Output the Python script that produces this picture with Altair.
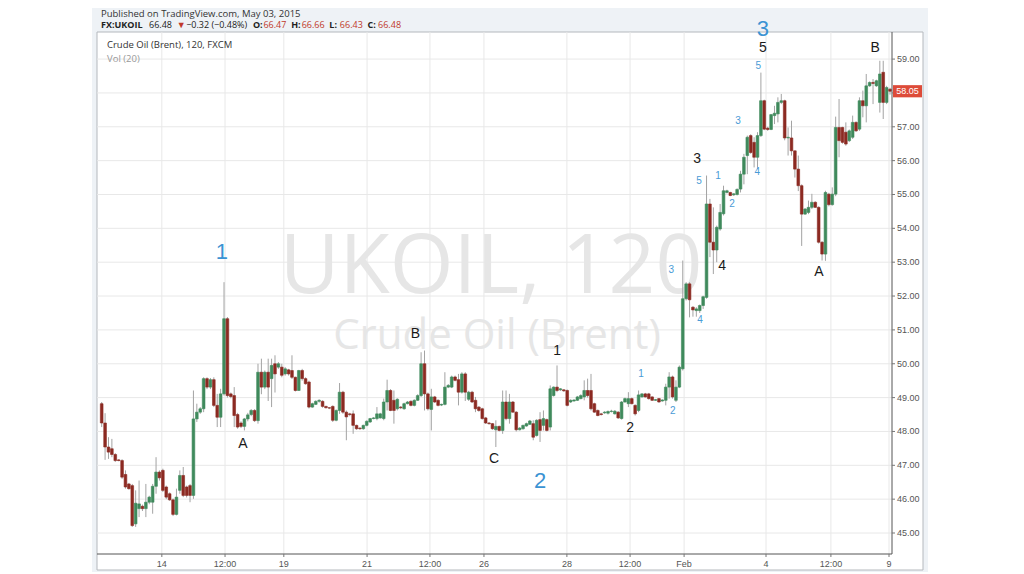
import altair as alt
import pandas as pd

# ---------------- data ----------------
opens = [48.82, 48.25, 47.54, 47.49, 47.32, 47.16, 47.14, 46.73, 46.45, 46.40,
         45.27, 45.72, 45.79, 45.72, 45.91, 45.91, 46.38, 46.80, 46.85, 46.36,
         46.16, 45.98, 45.55, 46.26, 46.70, 46.36, 46.40, 46.11, 48.37, 48.57,
         48.67, 49.56, 49.31, 49.53, 48.77, 48.42, 49.11, 51.33, 49.11, 49.06,
         48.50, 48.25, 48.15, 48.37, 48.50, 48.62, 48.32, 49.75, 49.31, 49.75,
         49.56, 50.00, 49.90, 49.90, 49.70, 49.82, 49.80, 49.60, 49.21, 49.80,
         49.56, 49.46, 48.72, 48.80, 48.89, 48.89, 48.74, 48.70, 48.74, 48.33,
         48.62, 49.16, 48.57, 48.52, 48.52, 48.18, 48.10, 48.08, 48.18, 48.28,
         48.38, 48.38, 48.40, 48.38, 48.87, 49.21, 48.92, 48.67, 48.72, 48.67,
         48.82, 48.89, 48.77, 48.92, 49.06, 50.00, 49.11, 48.65, 49.02, 48.92,
         48.78, 48.80, 49.31, 49.31, 49.61, 49.53, 49.16, 49.70, 48.95, 49.16,
         48.92, 48.72, 48.67, 48.40, 48.25, 48.23, 48.05, 48.15, 48.03, 48.87,
         48.38, 48.87, 48.57, 48.05, 48.08, 48.16, 48.21, 48.23, 47.88, 48.35,
         48.18, 48.35, 48.13, 49.06, 49.31, 49.23, 49.23, 49.21, 48.87, 48.90,
         48.92, 48.97, 49.02, 49.21, 49.21, 48.82, 48.62, 48.52, 48.55, 48.54,
         48.59, 48.52, 48.57, 48.38, 48.87, 48.82, 48.97, 48.77, 48.62, 49.02,
         49.11, 49.11, 49.02, 48.92, 48.97, 48.90, 48.92, 49.31, 49.61, 48.92,
         49.31, 49.85, 51.92, 52.36, 51.67, 51.57, 51.57, 51.72, 51.96, 54.72,
         53.59, 53.36, 53.98, 54.43, 55.06, 55.06, 54.99, 55.00, 55.16, 55.60,
         56.15, 56.74, 56.54, 56.10, 56.74, 57.77, 56.96, 56.92, 57.33, 57.38,
         57.72, 57.77, 56.67, 56.67, 56.29, 55.75, 55.26, 54.42, 54.47, 54.62,
         54.77, 54.62, 53.59, 53.24, 55.01, 54.70, 55.01, 56.98, 56.98, 56.84,
         56.59, 56.69, 57.13, 56.93, 57.77, 57.62, 58.21, 58.31, 58.21, 57.72,
         58.61, 57.72, 58.11]
highs = [48.87, 48.54, 47.83, 47.78, 47.36, 47.18, 47.18, 46.85, 46.48, 46.45,
         46.26, 46.55, 45.84, 46.45, 46.10, 46.45, 47.24, 46.85, 46.90, 46.40,
         46.20, 46.02, 46.31, 46.85, 46.95, 46.40, 46.45, 49.21, 48.82, 48.72,
         49.60, 49.60, 49.58, 49.60, 49.11, 49.26, 52.41, 51.38, 49.15, 49.31,
         48.55, 48.30, 48.40, 48.55, 48.66, 48.66, 50.00, 50.15, 49.80, 50.15,
         50.15, 50.25, 50.05, 50.00, 49.90, 49.85, 50.25, 49.62, 49.82, 49.85,
         49.60, 49.50, 48.85, 48.92, 48.95, 48.92, 48.76, 48.72, 48.77, 48.65,
         49.43, 49.20, 48.62, 48.55, 48.62, 48.20, 48.12, 48.20, 48.33, 48.40,
         48.42, 48.72, 48.55, 48.97, 49.53, 49.25, 49.21, 48.98, 48.75, 48.85,
         48.90, 48.92, 48.95, 49.10, 50.34, 50.39, 49.15, 49.26, 49.05, 48.95,
         48.82, 49.75, 49.40, 49.65, 49.65, 49.70, 49.75, 49.75, 49.20, 49.20,
         49.02, 48.75, 48.70, 48.43, 48.28, 48.25, 48.33, 48.17, 49.21, 49.21,
         49.11, 48.90, 48.60, 48.13, 48.20, 48.26, 48.34, 48.33, 48.36, 48.57,
         48.62, 48.38, 49.36, 49.33, 49.95, 49.28, 49.25, 49.24, 48.95, 48.95,
         49.05, 49.10, 49.51, 49.56, 49.70, 48.85, 48.65, 48.55, 48.60, 48.62,
         48.64, 48.63, 48.60, 48.90, 49.00, 49.16, 49.00, 48.80, 49.21, 49.13,
         49.14, 49.14, 49.04, 48.96, 48.99, 48.95, 49.41, 49.75, 49.65, 49.51,
         49.95, 53.05, 52.41, 52.41, 51.70, 51.67, 51.75, 52.01, 55.56, 54.87,
         54.62, 54.08, 54.72, 55.26, 55.14, 55.08, 55.04, 55.18, 55.70, 56.20,
         56.74, 56.78, 56.69, 56.84, 58.60, 57.80, 57.00, 57.38, 57.62, 57.87,
         57.97, 57.80, 56.98, 57.18, 56.30, 56.15, 55.30, 54.60, 54.82, 55.02,
         54.80, 54.65, 53.62, 55.11, 55.05, 55.21, 57.30, 57.82, 57.00, 57.13,
         56.92, 57.33, 57.16, 57.87, 58.07, 58.56, 58.34, 58.41, 58.39, 58.95,
         58.95, 58.21, 58.15]
lows = [48.13, 47.16, 47.19, 47.24, 47.10, 47.12, 46.60, 46.31, 46.28, 45.18,
        45.18, 45.47, 45.65, 45.47, 45.85, 45.57, 46.16, 46.55, 46.21, 46.00,
        45.95, 45.50, 45.52, 46.16, 46.06, 46.05, 45.91, 46.01, 48.28, 48.52,
        48.57, 49.25, 49.25, 48.72, 48.13, 48.13, 49.06, 49.00, 48.98, 48.13,
        48.08, 48.10, 48.03, 48.30, 48.45, 48.28, 48.23, 49.10, 49.25, 48.90,
        48.72, 49.15, 49.85, 49.60, 49.65, 49.65, 49.55, 49.18, 49.20, 49.50,
        49.38, 48.68, 48.70, 48.78, 48.85, 48.70, 48.68, 48.66, 48.28, 48.30,
        48.52, 48.52, 47.74, 48.45, 47.93, 48.05, 48.05, 48.05, 48.15, 48.25,
        48.36, 48.33, 48.38, 48.33, 48.62, 48.60, 48.23, 48.62, 48.66, 48.64,
        48.80, 48.74, 48.74, 48.90, 49.02, 48.62, 48.62, 48.03, 48.84, 48.74,
        48.75, 48.77, 49.28, 49.28, 49.48, 48.77, 49.12, 48.90, 48.90, 48.84,
        48.57, 48.58, 48.35, 48.22, 48.20, 48.05, 47.54, 48.00, 47.93, 48.33,
        48.23, 48.55, 48.00, 48.03, 48.05, 48.14, 48.19, 47.74, 47.85, 47.69,
        48.03, 48.00, 48.03, 49.03, 49.16, 49.20, 49.17, 48.74, 48.84, 48.88,
        48.90, 48.95, 48.92, 49.00, 48.62, 48.55, 48.45, 48.47, 48.52, 48.50,
        48.56, 48.50, 48.37, 48.35, 48.85, 48.72, 48.80, 48.47, 48.57, 49.00,
        49.00, 48.94, 48.90, 48.90, 48.85, 48.88, 48.77, 48.97, 48.97, 48.87,
        49.28, 49.80, 51.87, 51.37, 51.39, 51.39, 51.50, 51.62, 51.92, 53.15,
        52.65, 53.00, 53.93, 54.38, 55.03, 54.95, 54.96, 54.97, 55.06, 55.30,
        55.60, 56.20, 55.80, 55.75, 56.70, 56.90, 56.88, 56.90, 57.08, 57.13,
        57.67, 56.60, 56.15, 56.15, 55.50, 55.10, 53.48, 54.40, 54.42, 54.57,
        54.60, 53.55, 53.05, 53.04, 54.65, 54.67, 54.95, 56.10, 56.50, 56.44,
        56.55, 56.64, 56.85, 56.88, 57.28, 57.13, 58.18, 57.67, 58.18, 57.42,
        57.23, 57.67, 57.95]
closes = [48.25, 47.54, 47.39, 47.32, 47.14, 47.14, 46.65, 46.36, 46.31, 45.22,
          45.88, 45.86, 45.72, 45.91, 46.06, 46.38, 46.80, 46.63, 46.26, 46.06,
          45.98, 45.55, 46.06, 46.70, 46.11, 46.11, 46.11, 48.37, 48.57, 48.67,
          49.56, 49.31, 49.53, 48.77, 48.42, 49.11, 51.33, 49.06, 49.03, 48.47,
          48.13, 48.15, 48.37, 48.49, 48.62, 48.32, 49.75, 49.31, 49.75, 49.31,
          49.95, 49.70, 50.00, 49.66, 49.85, 49.70, 49.60, 49.21, 49.80, 49.56,
          49.41, 48.72, 48.82, 48.89, 48.92, 48.74, 48.70, 48.69, 48.33, 48.62,
          49.16, 48.57, 48.43, 48.50, 48.18, 48.08, 48.08, 48.18, 48.30, 48.38,
          48.40, 48.52, 48.52, 48.87, 49.21, 48.62, 48.62, 48.95, 48.70, 48.82,
          48.87, 48.77, 48.92, 49.06, 50.00, 49.11, 48.67, 49.02, 48.87, 48.77,
          48.80, 49.31, 49.36, 49.61, 49.51, 49.16, 49.70, 49.16, 49.16, 48.87,
          48.67, 48.62, 48.38, 48.25, 48.23, 48.08, 48.15, 48.03, 48.87, 48.38,
          48.87, 48.57, 48.05, 48.10, 48.18, 48.23, 48.31, 47.83, 48.33, 48.03,
          48.38, 48.03, 49.26, 49.31, 49.21, 49.26, 49.20, 48.77, 48.92, 48.93,
          49.02, 49.06, 49.21, 49.06, 48.67, 48.57, 48.47, 48.50, 48.57, 48.59,
          48.60, 48.60, 48.40, 48.87, 48.97, 48.97, 48.82, 48.52, 49.08, 49.11,
          49.02, 48.97, 48.92, 48.94, 48.87, 48.93, 49.31, 49.61, 49.02, 49.31,
          49.90, 51.92, 52.36, 51.89, 51.59, 51.62, 51.72, 51.98, 54.72, 53.59,
          53.36, 54.03, 54.47, 55.11, 55.11, 54.97, 55.02, 55.15, 55.60, 56.10,
          56.69, 56.24, 56.10, 56.74, 57.77, 56.93, 56.92, 57.36, 57.40, 57.72,
          57.77, 56.67, 56.69, 56.29, 55.75, 55.26, 54.42, 54.57, 54.62, 54.77,
          54.62, 53.59, 53.24, 55.06, 54.70, 55.01, 56.98, 56.59, 56.54, 56.49,
          56.88, 57.13, 56.88, 57.77, 57.62, 58.21, 58.31, 58.28, 58.36, 58.56,
          57.72, 58.16, 58.05]

# time axis (bar index positions and their labels)
tick_idx = [18.7, 37.3, 54.6, 79.1, 97.6, 113.5, 137.9, 156.5, 172.4, 196.5, 215.6, 232.7]
tick_labels = ["14", "12:00", "19", "21", "12:00", "26", "28", "12:00", "Feb", "4", "12:00", "9"]
price_ticks = [45, 46, 47, 48, 49, 50, 51, 52, 53, 54, 55, 56, 57, 58, 59]

# Elliott wave labels
wave_text = ["1", "2", "3",
             "A", "B", "C", "1", "2", "3", "4", "5", "A", "B",
             "1", "2", "3", "4", "5", "1", "2", "3", "4", "5"]
wave_idx = [36.4, 130.0, 195.6,
            42.6, 93.3, 116.5, 135.0, 156.5, 176.2, 183.6, 195.6, 212.1, 228.6,
            159.7, 169.1, 168.6, 177.1, 176.8, 182.4, 186.5, 188.3, 193.9, 194.2]
wave_price = [53.30, 46.54, 59.89,
              47.63, 50.88, 47.19, 50.38, 48.10, 56.05, 52.89, 59.32, 52.71, 59.32,
              49.70, 48.60, 52.77, 51.29, 55.40, 55.54, 54.72, 57.17, 55.66, 58.79]
wave_style = ["big"] * 3 + ["black"] * 10 + ["small"] * 10

# header line 2: text pieces (text, weight, colour)
head_text = ["FX:UKOIL", "66.48", "\u25BC", "\u22120.32 (\u22120.48%)", "O:", "66.47",
             "H:", "66.66", "L:", "66.43", "C:", "66.48"]
head_bold = [True, False, False, False, True, False, True, False, True, False, True, False]
head_red = [False, False, True, False, False, True, False, True, False, True, False, True]

# ---------------- tables ----------------
n = len(opens)
df = pd.DataFrame({"i": list(range(1, n + 1)), "open": opens, "high": highs,
                   "low": lows, "close": closes})
df["top"] = df[["open", "close"]].max(axis=1)
df["bot"] = df[["open", "close"]].min(axis=1)
df["dir"] = ["up" if c >= o else "down" for o, c in zip(opens, closes)]

waves = pd.DataFrame({"t": wave_text, "i": wave_idx, "p": wave_price, "s": wave_style})
ticks_df = pd.DataFrame({"t": tick_idx, "lbl": tick_labels})
prices_df = pd.DataFrame({"p": price_ticks, "lbl": [f"{p:.2f}" for p in price_ticks]})
last = closes[-1]
last_df = pd.DataFrame({"p": [last], "hi": [last + 0.18], "lo": [last - 0.18],
                        "lbl": [f"{last:.2f}"]})
one = pd.DataFrame({"a": [0]})

W, H = 795, 522
xs = alt.Scale(domain=[-0.38, 233.58], nice=False, zero=False, padding=0)
ys = alt.Scale(domain=[44.38, 59.80], nice=False, zero=False, padding=0)
X = lambda f: alt.X(f, scale=xs, axis=None)
Y = lambda f: alt.Y(f, scale=ys, axis=None)

AX = "Liberation Sans"
AXC = "#555555"
GRID = "#e8e8e8"

# ---------------- decoration ----------------
bg = alt.Chart(one).mark_rect(color="#eef2f6").encode(
    x=alt.value(-5), x2=alt.value(831), y=alt.value(-32), y2=alt.value(540))
box = alt.Chart(one).mark_rect(fill="white", stroke="#b4b8bd", strokeWidth=1).encode(
    x=alt.value(0), x2=alt.value(826), y=alt.value(0), y2=alt.value(538))

grid_h = alt.Chart(prices_df).mark_rule(color=GRID, strokeWidth=1).encode(
    y=Y("p:Q"), x=alt.value(0), x2=alt.value(W))
grid_v = alt.Chart(ticks_df).mark_rule(color=GRID, strokeWidth=1).encode(
    x=X("t:Q"), y=alt.value(0), y2=alt.value(H))

wm1 = alt.Chart(one).mark_text(text="UKOIL, 120", font="Open Sans", fontSize=82,
                               color="#e6e6e6", align="center", baseline="middle").encode(
    x=alt.value(394), y=alt.value(236))
wm2 = alt.Chart(one).mark_text(text="Crude Oil (Brent)", font="Open Sans", fontSize=42,
                               color="#e6e6e6", align="center", baseline="middle").encode(
    x=alt.value(400), y=alt.value(304))

# ---------------- axes drawn from the tick lists ----------------
y_dom = alt.Chart(one).mark_rule(color=AXC, strokeWidth=1).encode(
    x=alt.value(W), y=alt.value(0), y2=alt.value(H))
x_dom = alt.Chart(one).mark_rule(color=AXC, strokeWidth=1).encode(
    y=alt.value(H), x=alt.value(0), x2=alt.value(W))
y_ticks = alt.Chart(prices_df).mark_rule(color="#777777").encode(
    y=Y("p:Q"), x=alt.value(W), x2=alt.value(W + 3))
x_ticks = alt.Chart(ticks_df).mark_rule(color="#777777").encode(
    x=X("t:Q"), y=alt.value(H), y2=alt.value(H + 3))
y_lbls = alt.Chart(prices_df).mark_text(font=AX, fontSize=9, color=AXC, align="left",
                                        baseline="middle").encode(
    y=Y("p:Q"), x=alt.value(W + 5), text="lbl:N")
x_lbls = alt.Chart(ticks_df).mark_text(font=AX, fontSize=9, color=AXC, align="center",
                                       baseline="middle").encode(
    x=X("t:Q"), y=alt.value(H + 10), text="lbl:N")

# ---------------- candles ----------------
wicks = alt.Chart(df).mark_rule(color="#a3a3a3", strokeWidth=1).encode(
    x=X("i:Q"), y=Y("low:Q"), y2="high:Q")
col = alt.Color("dir:N", scale=alt.Scale(domain=["up", "down"], range=["#3f8a5c", "#8c2a22"]),
                legend=None)
bodies = alt.Chart(df).mark_bar(size=2.7, strokeWidth=0.6).encode(
    x=X("i:Q"), y=Y("bot:Q"), y2="top:Q", color=col, stroke=col)

# ---------------- wave labels ----------------
def wave_layer(style, size, color):
    return alt.Chart(waves).transform_filter(alt.datum.s == style).mark_text(
        font="Liberation Sans", fontSize=size, color=color, align="center", baseline="middle"
    ).encode(x=X("i:Q"), y=Y("p:Q"), text="t:N")

w_big = wave_layer("big", 22, "#3b93d3")
w_black = wave_layer("black", 14, "#1a1a1a")
w_small = wave_layer("small", 10, "#4a9bd6")

# ---------------- last price tag ----------------
tag = alt.Chart(last_df).mark_rect(color="#dd4b39").encode(
    x=alt.value(W + 1), x2=alt.value(W + 30), y=Y("hi:Q"), y2="lo:Q")
tag_txt = alt.Chart(last_df).mark_text(font=AX, fontSize=9, color="white", align="center",
                                       baseline="middle").encode(
    x=alt.value(W + 15.5), y=Y("p:Q"), text="lbl:N")

# ---------------- header texts ----------------
head_layers = []
cx = 4.0
for t, b, r in zip(head_text, head_bold, head_red):
    w = 0.0
    for ch in t:
        w += 5.4 if ch.isdigit() or ch in "\u2212" else (2.6 if ch in ".:" else (3.0 if ch in "() " else 5.9))
    if b:
        w *= 1.06
    head_layers.append(
        alt.Chart(one).mark_text(text=t, font="Open Sans", fontSize=9,
                                 fontWeight="bold" if b else "normal",
                                 color="#c0392b" if r else "#222222",
                                 align="left", baseline="alphabetic").encode(
            x=alt.value(cx), y=alt.value(-4)))
    cx += w + (1.5 if b else 3.5)

pub = alt.Chart(one).mark_text(text="Published on TradingView.com, May 03, 2015", font="Open Sans",
                               fontSize=9.5, color="#333333", align="left", baseline="alphabetic").encode(
    x=alt.value(4), y=alt.value(-15))
sym = alt.Chart(one).mark_text(text="Crude Oil (Brent), 120, FXCM", font="Open Sans",
                               fontSize=9.5, color="#333333", align="left", baseline="alphabetic").encode(
    x=alt.value(10), y=alt.value(16))
vol = alt.Chart(one).mark_text(text="Vol (20)", font="Open Sans", fontSize=9.5,
                               color="#999999", align="left", baseline="alphabetic").encode(
    x=alt.value(10), y=alt.value(30))

chart = alt.layer(
    bg, box, grid_h, grid_v, wm1, wm2, wicks, bodies, w_big, w_black, w_small,
    y_dom, x_dom, y_ticks, x_ticks, y_lbls, x_lbls,
    tag, tag_txt, pub, sym, vol, *head_layers
).properties(
    width=W, height=H,
    padding={"left": 89, "top": 24, "right": 124, "bottom": 18},
    autosize=alt.AutoSizeParams(type="none"),
    background="white",
).configure_view(stroke=None)

chart.save("out.html", embed_options={"renderer": "svg", "actions": False})
